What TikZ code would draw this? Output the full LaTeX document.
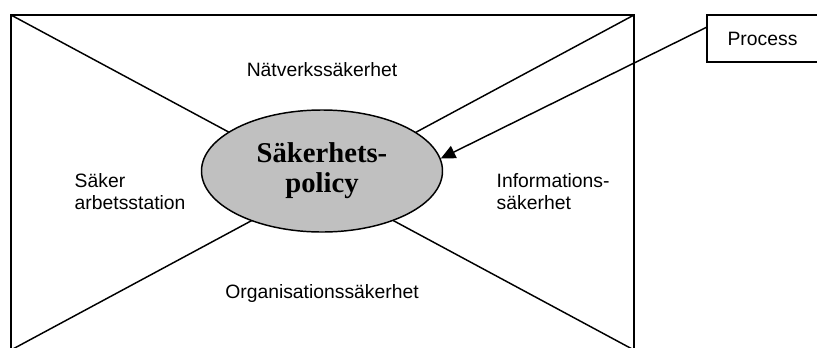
\documentclass[tikz,border=0pt]{standalone}
\usepackage{fontspec}
\setmainfont{Liberation Sans}
\newfontfamily\polfont{Liberation Serif}
\usetikzlibrary{arrows.meta,shapes}
\definecolor{polgray}{RGB}{192,192,192}
\tikzstyle{pcont}=[ellipse,draw=black,fill=polgray,line width=1.1pt,minimum width=180.75pt,minimum height=91.5pt,inner sep=0pt,align=center,font=\polfont\bfseries\fontsize{21.5}{22.5}\selectfont]
\tikzstyle{area}=[align=left,inner sep=0pt,font=\fontsize{14.5}{16.5}\selectfont]
\tikzstyle{pbox}=[rectangle,draw=black,line width=1.1pt,minimum width=83.25pt,minimum height=35.25pt,font=\fontsize{14.5}{16.5}\selectfont]
\tikzstyle{frame}=[line width=1.1pt]

\begin{document}
\begin{tikzpicture}[x=0.75pt,y=-0.75pt,frame]
\useasboundingbox (0,0) rectangle (817,347);
\coordinate (nw) at (11,15); \coordinate (ne) at (634,15);
\coordinate (sw) at (11,350); \coordinate (se) at (634,350);
\draw (nw) rectangle (se);
\draw (nw)--(se);\draw (sw)--(ne);
\node[pcont] (P) at (322,171) {Säkerhets-\\policy};
\node[area] (N) at (322,70) {Nätverkssäkerhet};
\node[area,anchor=west] (S) at (74,192) {Säker\\arbetsstation};
\node[area,anchor=west] (I) at (496,192) {Informations-\\säkerhet};
\node[area] (O) at (322,293) {Organisationssäkerhet};
\node[pbox] (Pr) at (762.5,38.5) {Process};
\coordinate (Ps) at (707,27);
\draw[-{Triangle[length=11pt,width=10pt]}] (Ps)--(P.6);
\end{tikzpicture}
\end{document}
